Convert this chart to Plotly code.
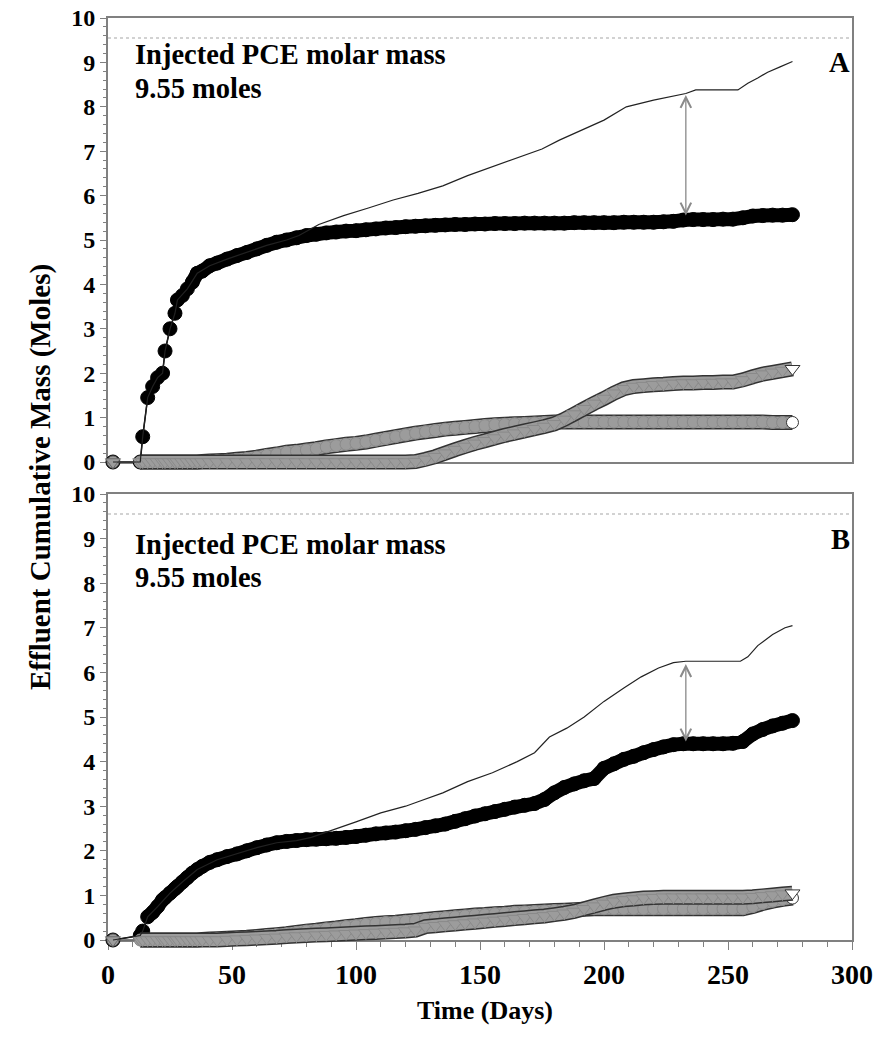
import plotly.graph_objects as go

# ---------------- data ----------------
days = [2, 13, 14, 16, 18, 20, 22, 23, 25, 27, 28, 30, 32, 34, 36, 38, 41,
        44, 48, 52, 56, 60, 64, 68, 72, 76, 80, 84, 88, 92, 96, 100, 104, 108,
        112, 116, 120, 124, 128, 132, 136, 140, 144, 148, 152, 156, 160, 164,
        168, 172, 176, 180, 184, 188, 192, 196, 200, 204, 208, 212, 216, 220,
        224, 228, 232, 236, 240, 244, 248, 252, 256, 260, 264, 268, 272, 276]

# Panel A
pce_A = [0, 0, 0.57, 1.45, 1.70, 1.90, 2.0, 2.5, 3.0, 3.35, 3.65, 3.75, 3.9, 4.05, 4.25, 4.3, 4.42,
         4.48, 4.57, 4.65, 4.72, 4.8, 4.88, 4.95, 5.0, 5.05, 5.1, 5.13, 5.16, 5.18, 5.2, 5.21, 5.23, 5.25,
         5.27, 5.28, 5.3, 5.31, 5.32, 5.33, 5.34, 5.35, 5.35, 5.36, 5.36, 5.37, 5.37, 5.37,
         5.38, 5.38, 5.38, 5.38, 5.38, 5.39, 5.39, 5.39, 5.39, 5.39, 5.4, 5.4, 5.4, 5.4,
         5.41, 5.42, 5.45, 5.46, 5.46, 5.46, 5.47, 5.47, 5.5, 5.54, 5.55, 5.56, 5.56, 5.57]
circ_A = [0, 0, 0, 0, 0, 0, 0, 0, 0, 0, 0, 0, 0, 0, 0, 0.01, 0.02,
          0.03, 0.04, 0.06, 0.08, 0.11, 0.15, 0.18, 0.22, 0.24, 0.27, 0.3, 0.34, 0.37, 0.4, 0.42, 0.45, 0.49,
          0.53, 0.57, 0.61, 0.65, 0.68, 0.71, 0.74, 0.76, 0.78, 0.8, 0.82, 0.84, 0.85, 0.86,
          0.87, 0.88, 0.89, 0.9, 0.9, 0.9, 0.9, 0.9, 0.9, 0.9, 0.9, 0.9, 0.9, 0.9,
          0.9, 0.9, 0.9, 0.9, 0.9, 0.9, 0.9, 0.9, 0.9, 0.9, 0.9, 0.89, 0.89, 0.89]
tri_A = [0, 0, 0, 0, 0, 0, 0, 0, 0, 0, 0, 0, 0, 0, 0, 0, 0,
         0, 0, 0, 0, 0, 0, 0, 0, 0, 0, 0, 0, 0, 0, 0, 0, 0,
         0, 0, 0, 0.01, 0.06, 0.12, 0.2, 0.28, 0.35, 0.42, 0.48, 0.54, 0.6, 0.65,
         0.7, 0.75, 0.8, 0.86, 0.96, 1.08, 1.2, 1.32, 1.43, 1.55, 1.65, 1.7, 1.72, 1.74,
         1.75, 1.77, 1.78, 1.78, 1.79, 1.79, 1.8, 1.8, 1.85, 1.92, 1.98, 2.02, 2.06, 2.1]
tot_A_days = [2, 13, 14, 16, 18, 20, 22, 23, 25, 27, 28, 32, 36, 41, 48, 56, 64, 72, 77, 85, 95,
              105, 115, 125, 135, 145, 155, 165, 175, 182, 190, 200, 209, 220, 233, 237, 254,
              258, 262, 266, 271, 276]
tot_A = [0, 0, 0.57, 1.45, 1.7, 1.9, 2.0, 2.5, 3.0, 3.35, 3.65, 3.9, 4.25, 4.42, 4.57, 4.72, 4.88,
         5.0, 5.1, 5.35, 5.55, 5.72, 5.9, 6.05, 6.22, 6.45, 6.65, 6.85, 7.05, 7.25, 7.45, 7.7, 8.0,
         8.15, 8.3, 8.38, 8.38, 8.53, 8.65, 8.78, 8.9, 9.02]

# Panel B
pce_B = [0, 0.1, 0.2, 0.52, 0.62, 0.75, 0.9, 0.95, 1.05, 1.15, 1.2, 1.3, 1.4, 1.5, 1.58, 1.65, 1.74,
         1.8, 1.87, 1.93, 2.0, 2.07, 2.13, 2.18, 2.21, 2.23, 2.25, 2.26, 2.27, 2.28, 2.3, 2.32, 2.35, 2.38,
         2.4, 2.42, 2.45, 2.48, 2.52, 2.56, 2.6, 2.66, 2.72, 2.78, 2.83, 2.88, 2.93, 2.98,
         3.02, 3.06, 3.15, 3.3, 3.42, 3.5, 3.57, 3.62, 3.85, 3.95, 4.05, 4.12, 4.2, 4.27,
         4.33, 4.38, 4.4, 4.4, 4.4, 4.4, 4.4, 4.41, 4.45, 4.62, 4.72, 4.8, 4.86, 4.92]
circ_B = [0, 0, 0, 0, 0, 0, 0, 0, 0, 0, 0, 0, 0, 0, 0, 0.01, 0.02,
          0.03, 0.04, 0.05, 0.06, 0.08, 0.1, 0.12, 0.14, 0.17, 0.2, 0.22, 0.25, 0.27, 0.3, 0.32, 0.35, 0.37,
          0.39, 0.4, 0.42, 0.44, 0.46, 0.48, 0.5, 0.52, 0.54, 0.56, 0.57, 0.59, 0.6, 0.62,
          0.63, 0.64, 0.65, 0.66, 0.67, 0.68, 0.69, 0.7, 0.7, 0.7, 0.7, 0.7, 0.7, 0.7,
          0.7, 0.7, 0.7, 0.7, 0.7, 0.7, 0.7, 0.7, 0.7, 0.75, 0.82, 0.87, 0.91, 0.94]
tri_B = [0, 0, 0, 0, 0, 0, 0, 0, 0, 0, 0, 0, 0, 0, 0, 0, 0,
         0, 0.01, 0.02, 0.03, 0.04, 0.05, 0.06, 0.08, 0.09, 0.1, 0.11, 0.12, 0.13, 0.14, 0.15, 0.16, 0.17,
         0.18, 0.19, 0.2, 0.22, 0.3, 0.32, 0.34, 0.36, 0.38, 0.4, 0.42, 0.44, 0.46, 0.48,
         0.5, 0.52, 0.54, 0.57, 0.6, 0.64, 0.7, 0.76, 0.82, 0.87, 0.9, 0.92, 0.94, 0.95,
         0.96, 0.96, 0.96, 0.96, 0.96, 0.96, 0.96, 0.96, 0.96, 0.97, 0.99, 1.01, 1.03, 1.05]
tot_B_days = [2, 13, 14, 16, 20, 25, 30, 36, 44, 52, 60, 68, 76, 82, 90, 100, 110, 120, 125, 135,
              145, 155, 165, 172, 178, 185, 192, 200, 208, 215, 222, 228, 233, 255, 258, 262, 268,
              273, 276]
tot_B = [0, 0.1, 0.2, 0.52, 0.75, 1.05, 1.3, 1.58, 1.8, 1.93, 2.07, 2.18, 2.23, 2.3, 2.45, 2.65,
         2.85, 3.0, 3.1, 3.3, 3.55, 3.75, 4.0, 4.2, 4.55, 4.75, 5.0, 5.35, 5.65, 5.9, 6.1, 6.22,
         6.25, 6.25, 6.35, 6.6, 6.85, 7.0, 7.05]

injected = 9.55
arrow_A = (233, 5.55, 8.3)
arrow_B = (233, 4.45, 6.22)
x_ticks = [0, 50, 100, 150, 200, 250, 300]
y_ticks = list(range(0, 11))
dense_start_A = 13   # index from which PCE markers merge into a band (panel A)
dense_start_B = 3    # same for panel B

# ---------------- layout geometry (pixels) ----------------
W, H = 876, 1049
PLOT_L, PLOT_R = 108, 852
PLOT_T, PLOT_B = 18, 954          # plot area incl. room for bands below panel B
A_TOP, A_BOT = 18, 462
B_TOP, B_BOT = 494, 940
EXT = 14                           # extra px below each panel's zero line for data layer


def py(p):
    return (PLOT_B - p) / (PLOT_B - PLOT_T)


def data_axis(top, bot):
    ppu = (bot - top) / 10.0
    return dict(domain=[py(bot + EXT), py(top)], range=[-EXT / ppu, 10], visible=False,
                anchor="free", position=0, fixedrange=True, automargin=False)


FONT = "Liberation Serif"
GRAY_FILL = "#9c9c9c"
GRAY_EDGE = "#333333"
FRAME = "#808080"

fig = go.Figure()


def gray_series(xa, ya, yvals, symbol, msize):
    n = len(days)
    fig.add_trace(go.Scatter(x=days[1:], y=yvals[1:], mode="lines", xaxis=xa, yaxis=ya,
                             line=dict(color=GRAY_EDGE, width=15, simplify=False),
                             showlegend=False, hoverinfo="skip"))
    fig.add_trace(go.Scatter(x=days[1:], y=yvals[1:], mode="lines", xaxis=xa, yaxis=ya,
                             line=dict(color=GRAY_FILL, width=12, simplify=False),
                             showlegend=False, hoverinfo="skip"))
    colors = [GRAY_FILL] * (n - 1) + ["white"]
    edges = ["#6a6a6a"] + ["#8a8a8a"] * (n - 2) + [GRAY_EDGE]
    fig.add_trace(go.Scatter(
        x=days, y=yvals, mode="lines+markers", xaxis=xa, yaxis=ya, cliponaxis=False,
        line=dict(color="#666666", width=1),
        marker=dict(symbol=symbol, size=msize, color=colors, line=dict(color=edges, width=1)),
        showlegend=False))


def add_panel(xa, ya, pce, circ, tri, tdays, tot, dense_start):
    fig.add_trace(go.Scatter(x=days[dense_start:], y=pce[dense_start:], mode="lines",
                             xaxis=xa, yaxis=ya,
                             line=dict(color="black", width=14, simplify=False), showlegend=False,
                             hoverinfo="skip"))
    fig.add_trace(go.Scatter(
        x=days, y=pce, mode="lines+markers", xaxis=xa, yaxis=ya, cliponaxis=False,
        line=dict(color="black", width=1.5),
        marker=dict(symbol="circle", size=14, color="black", line=dict(color="black", width=1)),
        showlegend=False))
    gray_series(xa, ya, circ, "circle", 12)
    gray_series(xa, ya, tri, "triangle-down", 13)
    fig.add_trace(go.Scatter(x=tdays, y=tot, mode="lines", xaxis=xa, yaxis=ya,
                             line=dict(color="#222222", width=1.2), showlegend=False))
    fig.add_trace(go.Scatter(x=[0, 300], y=[injected, injected], mode="lines", xaxis=xa, yaxis=ya,
                             line=dict(color="#c4c4c4", width=1.5, dash="dot"), showlegend=False))


add_panel("x2", "y3", pce_A, circ_A, tri_A, tot_A_days, tot_A, dense_start_A)
add_panel("x", "y4", pce_B, circ_B, tri_B, tot_B_days, tot_B, dense_start_B)

axis_common = dict(range=[0, 10], tickvals=y_ticks, showline=True, mirror=True,
                   linecolor=FRAME, linewidth=2, ticks="outside", ticklen=6,
                   tickcolor=FRAME, tickwidth=1, showgrid=False, zeroline=False,
                   automargin=False,
                   minor=dict(dtick=0.2, ticks="outside", ticklen=3, tickcolor=FRAME, showgrid=False),
                   tickfont=dict(family=FONT, size=24, color="black", weight="bold"))

fig.update_layout(
    width=W, height=H,
    margin=dict(l=PLOT_L, r=W - PLOT_R, t=PLOT_T, b=H - PLOT_B),
    paper_bgcolor="white", plot_bgcolor="rgba(0,0,0,0)",
    xaxis=dict(range=[0, 300], tickvals=x_ticks, anchor="y", showline=True, mirror=True,
               linecolor=FRAME, linewidth=2, ticks="outside", ticklen=8,
               tickcolor=FRAME, showgrid=False, zeroline=False, automargin=False,
               minor=dict(dtick=10, ticks="outside", ticklen=5, tickcolor=FRAME, showgrid=False),
               tickfont=dict(family=FONT, size=28, color="black", weight="bold")),
    xaxis2=dict(range=[0, 300], anchor="y2", matches="x", showline=True, mirror=True,
                linecolor=FRAME, linewidth=2, ticks="", showticklabels=False,
                showgrid=False, zeroline=False, automargin=False),
    yaxis=dict(domain=[py(B_BOT), py(B_TOP)], anchor="x", **axis_common),
    yaxis2=dict(domain=[py(A_BOT), py(A_TOP)], anchor="x2", **axis_common),
    yaxis3=data_axis(A_TOP, A_BOT),
    yaxis4=data_axis(B_TOP, B_BOT),
)

ann_font = dict(family=FONT, size=28.5, color="black", weight="bold")
arrow_style = dict(text="", showarrow=True, arrowhead=5, startarrowhead=5, arrowside="end+start",
                   arrowwidth=1.3, arrowcolor="#8a8a8a", arrowsize=1.6, startarrowsize=1.6)
annotations = [
    dict(x=10, y=9.17, xref="x2", yref="y2", text="Injected PCE molar mass",
         showarrow=False, xanchor="left", yanchor="middle", font=ann_font),
    dict(x=10, y=8.42, xref="x2", yref="y2", text="9.55 moles",
         showarrow=False, xanchor="left", yanchor="middle", font=ann_font),
    dict(x=300, y=9.0, xref="x2", yref="y2", text="A",
         showarrow=False, xanchor="right", yanchor="middle", font=ann_font),
    dict(x=10, y=8.86, xref="x", yref="y", text="Injected PCE molar mass",
         showarrow=False, xanchor="left", yanchor="middle", font=ann_font),
    dict(x=10, y=8.12, xref="x", yref="y", text="9.55 moles",
         showarrow=False, xanchor="left", yanchor="middle", font=ann_font),
    dict(x=300, y=8.97, xref="x", yref="y", text="B",
         showarrow=False, xanchor="right", yanchor="middle", font=ann_font),
    dict(x=arrow_A[0], y=arrow_A[1], ax=arrow_A[0], ay=arrow_A[2], xref="x2", yref="y2",
         axref="x2", ayref="y2", **arrow_style),
    dict(x=arrow_B[0], y=arrow_B[1], ax=arrow_B[0], ay=arrow_B[2], xref="x", yref="y",
         axref="x", ayref="y", **arrow_style),
    dict(x=(40 - PLOT_L) / (PLOT_R - PLOT_L), y=py(477), xref="paper", yref="paper",
         text="Effluent Cumulative Mass (Moles)",
         textangle=-90, showarrow=False, xanchor="center", yanchor="middle",
         font=dict(family=FONT, size=29, color="black", weight="bold")),
    dict(x=(485 - PLOT_L) / (PLOT_R - PLOT_L), y=py(1010), xref="paper", yref="paper",
         text="Time (Days)", showarrow=False, xanchor="center", yanchor="middle",
         font=dict(family=FONT, size=26, color="black", weight="bold")),
]
fig.update_layout(annotations=annotations)

fig.write_html("out.html")
